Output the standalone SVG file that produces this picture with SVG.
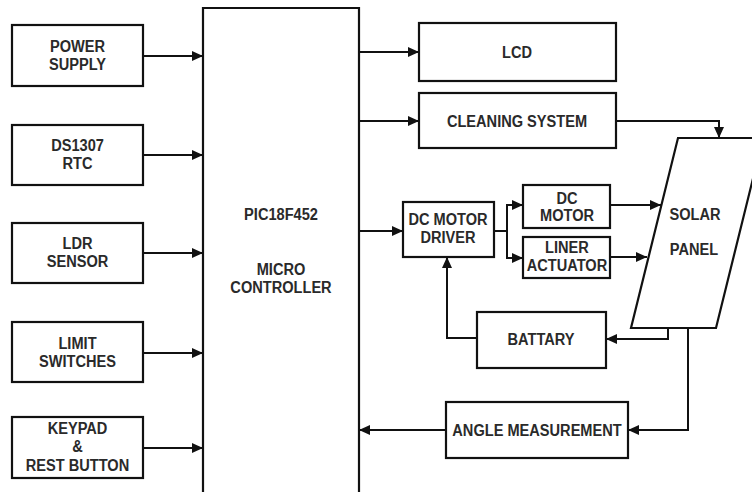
<svg xmlns="http://www.w3.org/2000/svg" width="752" height="492" viewBox="0 0 752 492">
<defs>
<marker id="ah" markerUnits="userSpaceOnUse" markerWidth="12" markerHeight="10" refX="11" refY="5" orient="auto">
<path d="M0,0 L11,5 L0,10 z" fill="#111"/>
</marker>
<style>
.box{fill:#fff;stroke:#111;stroke-width:2.2}
.ln{fill:none;stroke:#111;stroke-width:2}
.ar{fill:none;stroke:#111;stroke-width:2;marker-end:url(#ah)}
text{font-family:"Liberation Sans",Arial,sans-serif;font-weight:bold;font-size:14.6px;fill:#2a2a2a;text-anchor:middle}
</style>
</defs>
<rect width="752" height="492" fill="#fff"/>

<g id="connectors">
<path class="ar" d="M143,56 H203"/>
<path class="ar" d="M143,155 H203"/>
<path class="ar" d="M143,253 H203"/>
<path class="ar" d="M143,353 H203"/>
<path class="ar" d="M143,448 H203"/>
<path class="ar" d="M359,52 H419"/>
<path class="ar" d="M359,121 H419"/>
<path class="ar" d="M359,231 H403"/>
<path class="ln" d="M494,231 H507"/>
<path class="ar" d="M507,231 V205 H523"/>
<path class="ar" d="M507,231 V258 H523"/>
<path class="ar" d="M610,205 H661"/>
<path class="ar" d="M610,257 H647"/>
<path class="ar" d="M616,121 H719 V138"/>
<path class="ar" d="M477,338 H447 V257"/>
<path class="ar" d="M668,328 V339 H606"/>
<path class="ar" d="M688,328 V430 H628"/>
<path class="ar" d="M446,430 H359"/>
</g>

<g id="power-supply">
<rect class="box" x="12" y="25" width="131" height="61"/>
<text transform="translate(77.5,52) scale(1,1.15)">POWER</text>
<text transform="translate(77.5,70) scale(1,1.15)">SUPPLY</text>
</g>
<g id="rtc">
<rect class="box" x="12" y="125" width="131" height="60"/>
<text transform="translate(77.5,151) scale(1,1.15)">DS1307</text>
<text transform="translate(77.5,169) scale(1,1.15)">RTC</text>
</g>
<g id="ldr">
<rect class="box" x="12" y="223" width="131" height="60"/>
<text transform="translate(77.5,249) scale(1,1.15)">LDR</text>
<text transform="translate(77.5,267) scale(1,1.15)">SENSOR</text>
</g>
<g id="limit">
<rect class="box" x="12" y="322" width="131" height="60"/>
<text transform="translate(77.5,349) scale(1,1.15)">LIMIT</text>
<text transform="translate(77.5,367) scale(1,1.15)">SWITCHES</text>
</g>
<g id="keypad">
<rect class="box" x="12" y="417" width="131" height="61"/>
<text transform="translate(77.5,434) scale(1,1.15)">KEYPAD</text>
<text transform="translate(77.5,452) scale(1,1.15)">&amp;</text>
<text transform="translate(77.5,471) scale(1,1.15)">REST BUTTON</text>
</g>

<g id="microcontroller">
<path class="box" d="M203,500 V8 H359 V500"/>
<text transform="translate(281,220) scale(1,1.15)">PIC18F452</text>
<text transform="translate(281,275) scale(1,1.15)">MICRO</text>
<text transform="translate(281,293) scale(1,1.15)">CONTROLLER</text>
</g>

<g id="lcd">
<rect class="box" x="419" y="23" width="197" height="58"/>
<text transform="translate(517,58) scale(1,1.15)">LCD</text>
</g>
<g id="cleaning">
<rect class="box" x="419" y="93" width="197" height="55"/>
<text transform="translate(517,127) scale(1,1.15)">CLEANING SYSTEM</text>
</g>
<g id="driver">
<rect class="box" x="403" y="202" width="91" height="55"/>
<text transform="translate(448,225) scale(1,1.15)">DC MOTOR</text>
<text transform="translate(448,243) scale(1,1.15)">DRIVER</text>
</g>
<g id="dc-motor">
<rect class="box" x="523" y="185" width="87" height="43"/>
<text transform="translate(567,204) scale(1,1.15)">DC</text>
<text transform="translate(567,221) scale(1,1.15)">MOTOR</text>
</g>
<g id="actuator">
<rect class="box" x="523" y="237" width="87" height="41"/>
<text transform="translate(567,253) scale(1,1.15)">LINER</text>
<text transform="translate(567,271) scale(1,1.15)">ACTUATOR</text>
</g>
<g id="solar-panel">
<polygon class="box" points="678,138 763,138 716,328 631,328"/>
<text transform="translate(695,220) scale(1,1.15)">SOLAR</text>
<text transform="translate(694,255) scale(1,1.15)">PANEL</text>
</g>
<g id="battery">
<rect class="box" x="477" y="312" width="129" height="56"/>
<text transform="translate(541,345) scale(1,1.15)">BATTARY</text>
</g>
<g id="angle">
<rect class="box" x="446" y="402" width="182" height="56"/>
<text transform="translate(537,436) scale(1,1.15)">ANGLE MEASUREMENT</text>
</g>
</svg>
